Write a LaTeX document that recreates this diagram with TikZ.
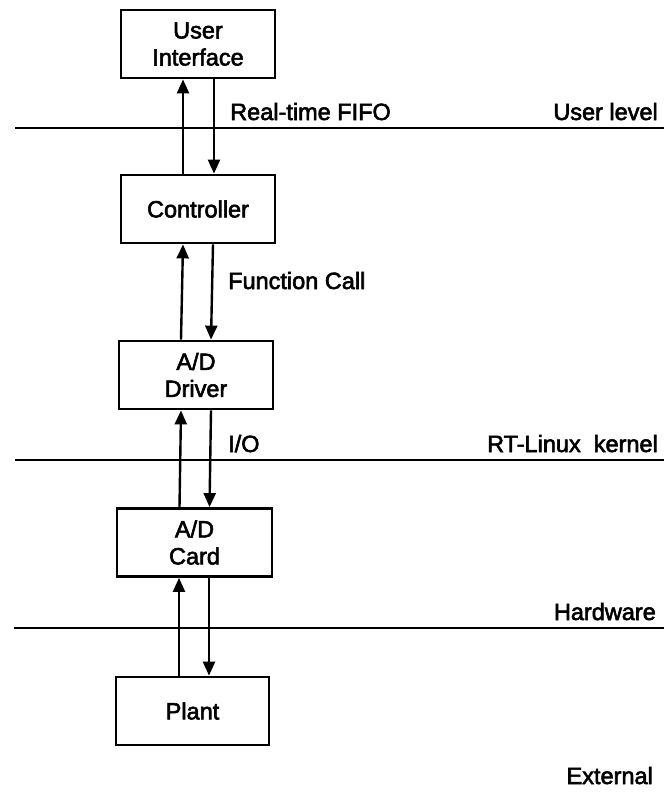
\documentclass[tikz,border=0pt]{standalone}
\usepackage{fontspec}
\setmainfont{Liberation Sans}[FakeBold=2.5]
\usetikzlibrary{arrows.meta}
\begin{document}
\begin{tikzpicture}[x=1pt,y=-1pt,
  blk/.style={draw,line width=2.8pt,minimum width=154pt,minimum height=68pt,align=center,inner sep=0pt,font=\fontsize{23.5}{27}\selectfont},
  arr/.style={line width=2.4pt,-{Triangle[length=14pt,width=12pt]}},
  sep/.style={line width=2.8pt},
  lbl/.style={inner sep=0pt,font=\fontsize{23.5}{27}\selectfont}]
\useasboundingbox (0,0) rectangle (664,795);
\node[blk] (ui) at (198,44) {User\\Interface};
\node[blk] (ctrl) at (198,209) {Controller};
\node[blk] (drv) at (196,375) {A/D\\Driver};
\node[blk,minimum width=155pt] (card) at (194.5,542.5) {A/D\\Card};
\node[blk,minimum width=153pt] (plant) at (192.5,711) {Plant};
% separators
\coordinate (l1a) at (15,128); \coordinate (l1b) at (664,128);
\coordinate (l2a) at (15,460); \coordinate (l2b) at (664,460);
\coordinate (l3a) at (14,628); \coordinate (l3b) at (664,628);
\draw[sep] (l1a) -- (l1b);
\draw[sep] (l2a) -- (l2b);
\draw[sep] (l3a) -- (l3b);
% arrows
\draw[arr] ([xshift=-15pt]ctrl.north) -- ([xshift=-15pt]ui.south);
\draw[arr] ([xshift=16pt]ui.south) -- ([xshift=16pt]ctrl.north);
\draw[arr] ([xshift=-15pt]drv.north) -- ([xshift=-15pt]ctrl.south);
\draw[arr] ([xshift=15pt]ctrl.south) -- ([xshift=15pt]drv.north);
\draw[arr] ([xshift=-15pt]card.north) -- ([xshift=-15pt]drv.south);
\draw[arr] ([xshift=15pt]drv.south) -- ([xshift=15pt]card.north);
\draw[arr] ([xshift=-13.5pt]plant.north) -- ([xshift=-15.5pt]card.south);
\draw[arr] ([xshift=14.5pt]card.south) -- ([xshift=16.5pt]plant.north);
% labels
\node[lbl,anchor=base west] (fifo) at (230,120) {Real-time FIFO};
\node[lbl,anchor=base east] (ul) at (658,120) {User level};
\node[lbl,anchor=base west] (fc) at (228,289) {Function Call};
\node[lbl,anchor=base west] (io) at (228,452) {I/O};
\node[lbl,anchor=base east] (rtl) at (658,452) {RT-Linux\ \ kernel};
\node[lbl,anchor=base east] (hw) at (656,620) {Hardware};
\node[lbl,anchor=base east] (ext) at (653,784) {External};
\end{tikzpicture}
\end{document}
